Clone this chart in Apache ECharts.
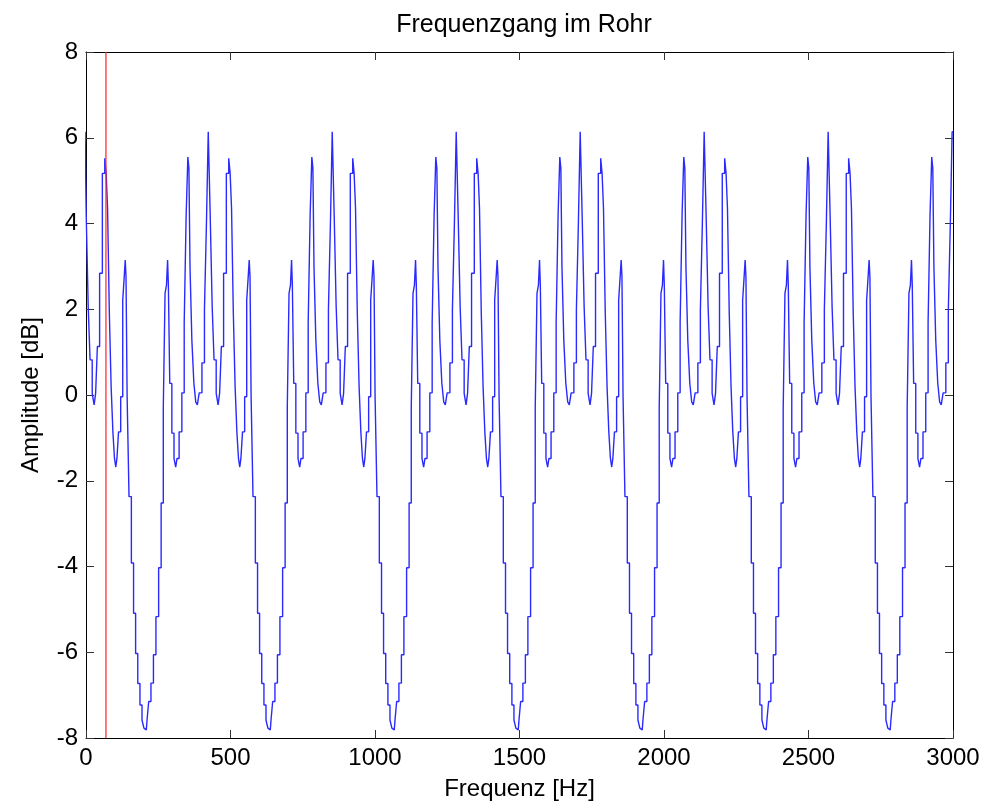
<!DOCTYPE html>
<html>
<head>
<meta charset="utf-8">
<script src="https://cdn.jsdelivr.net/npm/echarts@6/dist/echarts.min.js"></script>
<style>
  html, body { margin: 0; padding: 0; background: #fff; }
  #chart { width: 986px; height: 806px; }
</style>
</head>
<body>
<div id="chart"></div>
<script>
// one period of the staircase response (Hz offset from the tall peak, dB)
const periodOffsets = [
  0, 7.9, 13.8, 20.7, 28.7, 33.9, 39.1, 46.0, 54.6, 65.0,
  71.2, 74.7, 80.9, 87.1, 93.3, 99.2, 104.4, 108.2, 112.3, 119.2,
  127.2, 133.4, 137.6, 140.3, 143.1, 147.9, 156.2, 164.2, 171.4, 178.3,
  186.3, 193.5, 200.5, 206.7, 211.9, 217.0, 223.3, 232.6, 240.5, 249.9,
  259.2, 267.2, 274.1, 279.3, 284.1, 286.9, 289.6, 296.5, 304.1, 311.4,
  315.6, 320.7, 330.1, 339.7, 346.3, 353.2, 358.1, 360.5, 365.7, 373.3,
  379.5, 386.4, 390.6, 399.2, 409.6, 416.5, 423.4
]
const periodValues = [
  6.14, 4.20, 2.06, 0.82, 0.04, -0.23, 0.04, 1.13, 2.84, 5.17,
  5.52, 5.17, 4.36, 1.90, 0.19, -0.86, -1.48, -1.68, -1.48, -0.86,
  -0.04, 2.21, 2.76, 3.15, 2.76, -0.04, -2.37, -3.92, -5.09, -6.03,
  -6.73, -7.23, -7.58, -7.77, -7.81, -7.58, -7.15, -6.72, -6.06, -5.17,
  -4.03, -2.52, -0.30, 2.37, 2.56, 3.15, 2.56, 0.27, -0.89, -1.48,
  -1.68, -1.48, -0.86, 0.05, 1.68, 4.20, 5.55, 5.29, 2.99, 1.28,
  0.28, -0.16, -0.23, 0.05, 0.75, 1.98, 4.00
]
// positions of the tall 6.1 dB peaks (Hz)
const periodStarts = [-3.2, 425.8, 854.8, 1283.8, 1712.8, 2141.8, 2570.8, 2999.8]

// red marker line
const markerFreq = 69

const xTicks = [0, 500, 1000, 1500, 2000, 2500, 3000]
const yTicks = [-8, -6, -4, -2, 0, 2, 4, 6, 8]

const FONT = 'Liberation Sans, Arial, Helvetica, sans-serif'

const xMin = xTicks[0], xMax = xTicks[xTicks.length - 1]
const yMin = yTicks[0], yMax = yTicks[yTicks.length - 1]

const lineData = []
periodStarts.forEach(start => {
  periodOffsets.forEach((off, i) => {
    if (start + off <= xMax) lineData.push([start + off, periodValues[i]])
  })
})

const tickStyle = { show: true, inside: true, length: 8, lineStyle: { color: '#333', width: 1 } }
const lineAxis = { show: true, onZero: false, lineStyle: { color: '#000', width: 1 } }

const option = {
  animation: false,
  backgroundColor: '#fff',
  title: {
    text: 'Frequenzgang im Rohr',
    left: 519,
    top: 8,
    textAlign: 'center',
    textStyle: { fontFamily: FONT, fontSize: 25, fontWeight: 'normal', color: '#000' }
  },
  grid: { left: 86, right: 33, top: 52, bottom: 68 },
  xAxis: [{
    type: 'value',
    min: xMin, max: xMax, interval: 500,
    name: 'Frequenz [Hz]',
    nameLocation: 'middle',
    nameGap: 39,
    nameTextStyle: { fontFamily: FONT, fontSize: 24, color: '#000' },
    axisLine: lineAxis,
    axisTick: tickStyle,
    axisLabel: { fontFamily: FONT, fontSize: 24, color: '#000', margin: 8, formatter: v => String(v) },
    splitLine: { show: false }
  }, {
    type: 'value', position: 'top',
    min: xMin, max: xMax, interval: 500,
    axisLine: lineAxis, axisTick: tickStyle,
    axisLabel: { show: false }, splitLine: { show: false }
  }],
  yAxis: [{
    type: 'value',
    min: yMin, max: yMax, interval: 2,
    name: 'Amplitude [dB]',
    nameLocation: 'middle',
    nameGap: 43,
    nameTextStyle: { fontFamily: FONT, fontSize: 24, color: '#000' },
    axisLine: lineAxis,
    axisTick: tickStyle,
    axisLabel: { fontFamily: FONT, fontSize: 24, color: '#000', margin: 8 },
    splitLine: { show: false }
  }, {
    type: 'value', position: 'right',
    min: yMin, max: yMax, interval: 2,
    axisLine: lineAxis, axisTick: tickStyle,
    axisLabel: { show: false }, splitLine: { show: false }
  }],
  series: [{
    type: 'line',
    name: 'Frequenzgang',
    xAxisIndex: 0, yAxisIndex: 0,
    data: lineData,
    step: 'middle',
    showSymbol: false,
    clip: true,
    lineStyle: { color: '#2a2aff', width: 1.4 }
  }, {
    type: 'line',
    name: 'Marker',
    xAxisIndex: 0, yAxisIndex: 0,
    data: [[markerFreq, yMin], [markerFreq, yMax]],
    showSymbol: false,
    lineStyle: { color: '#ff2020', width: 1.2 }
  }]
}

const chart = echarts.init(document.getElementById('chart'))
chart.setOption(option)
</script>
</body>
</html>
